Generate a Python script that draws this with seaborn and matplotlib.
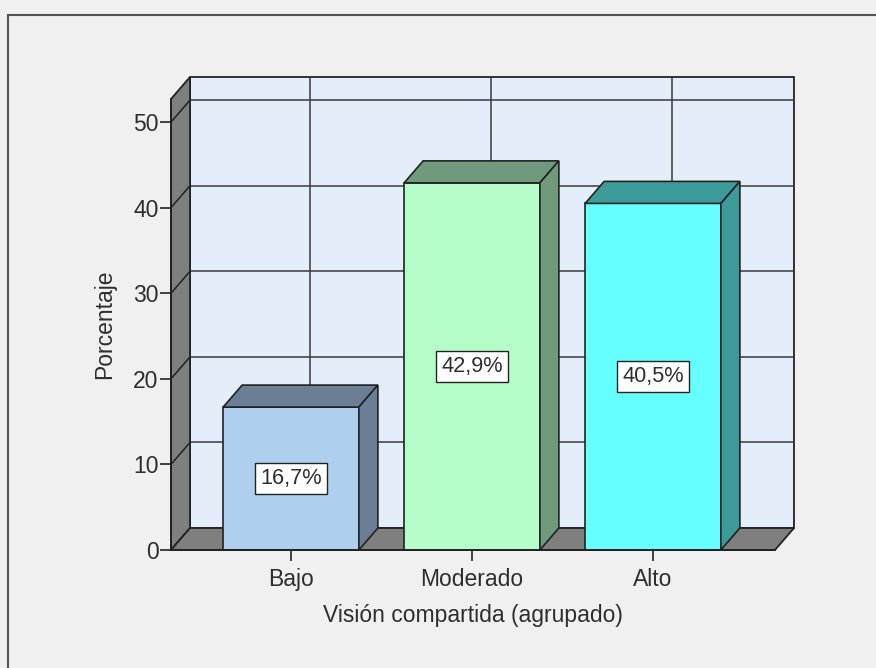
import numpy as np
import pandas as pd
import matplotlib
matplotlib.use('Agg')
import matplotlib.pyplot as plt
from matplotlib.patches import Polygon, Rectangle
import seaborn as sns

sns.set_theme(style='white')
plt.rcParams['font.family'] = ['Liberation Sans', 'DejaVu Sans']

# datos
categorias = ['Bajo', 'Moderado', 'Alto']
porcentajes = [16.7, 42.9, 40.5]
etiquetas = ['16,7%', '42,9%', '40,5%']
colores_frente = ['#aecfee', '#b5fdc8', '#66ffff']
colores_lado = ['#6a7f95', '#6f9a7c', '#3c9b99']
yticks = [0, 10, 20, 30, 40, 50]

df = pd.DataFrame({'grupo': categorias, 'pct': porcentajes})

fondo = '#f0f0f0'
texto = '#2e2e2e'
borde = '#222222'

fig = plt.figure(figsize=(8.76, 6.68), dpi=100, facecolor=fondo)
ax = fig.add_axes([171/876, 118/668, 604/876, 451/668])
ax.set_facecolor('none')

xmin, xmax = -0.663, 2.674
ymax = 52.7
dx, dy = 0.105, 2.57   # profundidad 3D

# barras (cara frontal) - primero, para recoger los rectangulos
sns.barplot(data=df, x='grupo', y='pct', hue='grupo', palette=colores_frente, saturation=1,
            width=0.75, edgecolor=borde, linewidth=1.2, legend=False, ax=ax, zorder=3)
barras = [p for p in ax.patches if p.get_height() > 0][-3:]

# pared del fondo, pared izquierda y suelo
ax.add_patch(Polygon([(xmin+dx, dy), (xmax+dx, dy), (xmax+dx, ymax+dy), (xmin+dx, ymax+dy)],
                     closed=True, fc='#e3eefa', ec=borde, lw=1.3, zorder=0, clip_on=False))
ax.add_patch(Polygon([(xmin, 0), (xmin+dx, dy), (xmin+dx, ymax+dy), (xmin, ymax)],
                     closed=True, fc='#7f7f7f', ec=borde, lw=1.3, zorder=1, clip_on=False))
ax.add_patch(Polygon([(xmin, 0), (xmax, 0), (xmax+dx, dy), (xmin+dx, dy)],
                     closed=True, fc='#7f7f7f', ec=borde, lw=1.3, zorder=1, clip_on=False))

# rejilla
for y in yticks[1:]:
    ax.plot([xmin+dx, xmax+dx], [y+dy, y+dy], color='#3a3a3a', lw=1.1, zorder=0.5, clip_on=False)
    ax.plot([xmin, xmin+dx], [y, y+dy], color='#222222', lw=1.1, zorder=1.5, clip_on=False)
for i in range(len(categorias)):
    ax.plot([i+dx, i+dx], [dy, ymax+dy], color='#3a3a3a', lw=1.1, zorder=0.5, clip_on=False)

for bar, lado, lab in zip(barras, colores_lado, etiquetas):
    x0 = bar.get_x()
    x1 = x0 + bar.get_width()
    h = bar.get_height()
    ax.add_patch(Polygon([(x0, h), (x1, h), (x1+dx, h+dy), (x0+dx, h+dy)], closed=True,
                         fc=lado, ec=borde, lw=1.2, zorder=3, clip_on=False))
    ax.add_patch(Polygon([(x1, 0), (x1+dx, dy), (x1+dx, h+dy), (x1, h)], closed=True,
                         fc=lado, ec=borde, lw=1.2, zorder=3, clip_on=False))
    ax.text(x0 + bar.get_width()/2, h/2, lab, ha='center', va='center', fontsize=15.7,
            color=texto, zorder=6,
            bbox=dict(boxstyle='square,pad=0.22', fc='white', ec=borde, lw=1))

ax.set_xlim(xmin, xmax)
ax.set_ylim(0, ymax)
ax.set_yticks(yticks)
ax.set_xticks(range(len(categorias)))
ax.set_xticklabels(categorias)
for s in ['top', 'right']:
    ax.spines[s].set_visible(False)
for s in ['left', 'bottom']:
    ax.spines[s].set_color(borde)
    ax.spines[s].set_linewidth(1.3)
    ax.spines[s].set_zorder(4)
ax.tick_params(axis='both', direction='out', length=8, width=1.2, color=borde,
               labelsize=16.5, labelcolor=texto, pad=1, left=True, bottom=True)
ax.tick_params(axis='x', pad=5)
ax.set_xlabel('Visión compartida (agrupado)', fontsize=16.5, color=texto, labelpad=9)
ax.set_ylabel('Porcentaje', fontsize=16.5, color=texto, labelpad=12)

# marco exterior
fig.add_artist(Rectangle((8/876, -0.2), 1.2, 1.2 - 15/668, transform=fig.transFigure,
                         fill=False, ec='#555555', lw=1.5))

fig.savefig('out.png', dpi=100, facecolor=fondo)
